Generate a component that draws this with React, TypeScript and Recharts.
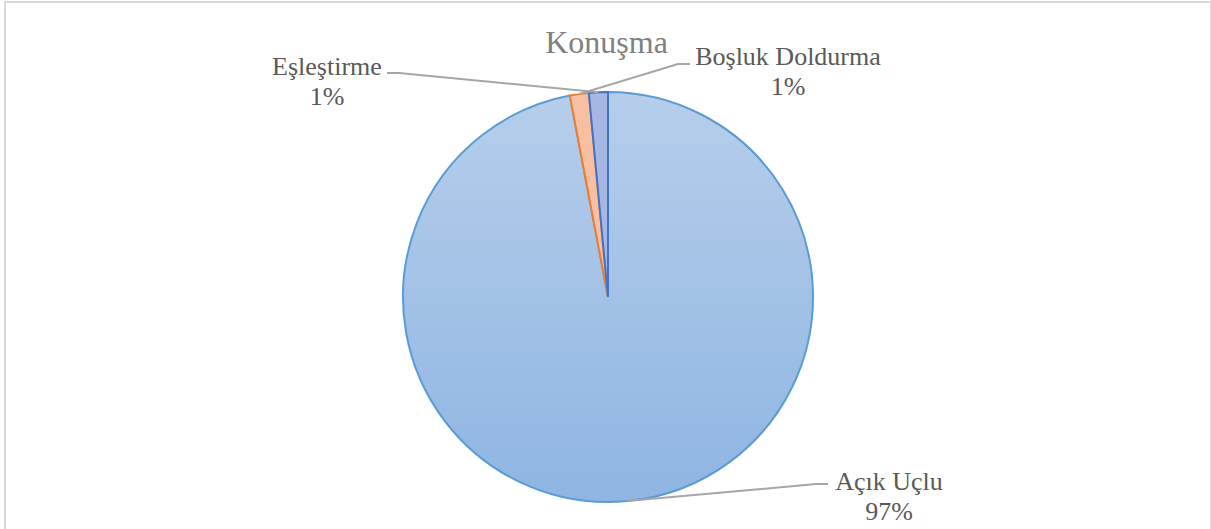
import React from "react";
import { PieChart, Pie, Cell } from "recharts";

// clockwise from 12 o'clock
const categories = ["Açık Uçlu", "Boşluk Doldurma", "Eşleştirme"];
const values = [97.02, 1.49, 1.49];
const title = "Konuşma";

const fills = ["url(#bigSlice)", "#f8c0a2", "#a7b7e3"];
const strokes = ["#5b9bd5", "#ed7d31", "#4472c4"];

// where each label sits (text centre, baseline of first line, leader elbow)
const labelSpots = [
  { tx: 889, ty: 490, ex: 828, ey: 484, dir: -1 },
  { tx: 788, ty: 65, ex: 690, ey: 64, dir: -1 },
  { tx: 327, ty: 75, ex: 387, ey: 73, dir: 1 },
];

const data = categories.map((name, i) => ({ name, value: values[i] }));

const RAD = Math.PI / 180;
const font = "Liberation Serif, serif";

function renderLabel(props: any) {
  const { cx, cy, midAngle, outerRadius, percent, index, name } = props;
  const spot = labelSpots[index];
  const px = cx + outerRadius * Math.cos(-midAngle * RAD);
  const py = cy + outerRadius * Math.sin(-midAngle * RAD);
  const knee = spot.ex + spot.dir * 12;
  return (
    <g key={`lab-${index}`}>
      <polyline
        points={`${spot.ex},${spot.ey} ${knee},${spot.ey} ${px},${py}`}
        fill="none"
        stroke="#a6a6a6"
        strokeWidth={2}
      />
      <text
        x={spot.tx}
        y={spot.ty}
        textAnchor="middle"
        fill="#595959"
        style={{ fontFamily: font, fontSize: 26 }}
      >
        {name}
      </text>
      <text
        x={spot.tx}
        y={spot.ty + 30}
        textAnchor="middle"
        fill="#595959"
        style={{ fontFamily: font, fontSize: 26 }}
      >
        {Math.round(percent * 100)}%
      </text>
    </g>
  );
}

export default function App() {
  return (
    <div
      style={{
        position: "absolute",
        left: 0,
        top: 0,
        width: 1211,
        height: 529,
        overflow: "hidden",
        background: "#fff",
      }}
    >
      <div
        style={{
          position: "absolute",
          left: 4,
          top: 1,
          width: 1204,
          height: 560,
          border: "2px solid #d9d9d9",
        }}
      />
      <div
        style={{
          position: "absolute",
          left: 0,
          width: 1213,
          top: 22,
          textAlign: "center",
          fontFamily: font,
          fontSize: 32,
          color: "#808080",
          lineHeight: "40px",
        }}
      >
        {title}
      </div>
      <div style={{ position: "absolute", left: 0, top: 0 }}>
        <PieChart width={1211} height={529} margin={{ top: 0, right: 0, bottom: 0, left: 0 }}>
          <defs>
            <linearGradient id="bigSlice" x1="0" y1="0" x2="0" y2="1">
              <stop offset="0%" stopColor="#b6ceeb" />
              <stop offset="100%" stopColor="#8fb5e2" />
            </linearGradient>
          </defs>
          <Pie
            data={data}
            dataKey="value"
            nameKey="name"
            cx={608}
            cy={297}
            outerRadius={205}
            startAngle={90}
            endAngle={-270}
            label={renderLabel}
            labelLine={false}
            isAnimationActive={false}
          >
            {data.map((d, i) => (
              <Cell key={d.name} fill={fills[i]} stroke={strokes[i]} strokeWidth={2} />
            ))}
          </Pie>
        </PieChart>
      </div>
    </div>
  );
}
